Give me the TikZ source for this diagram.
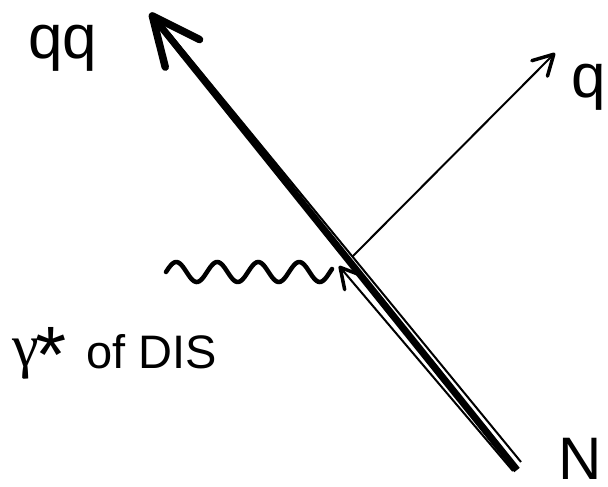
\documentclass[tikz,border=0pt]{standalone}
\usepackage{fontspec}
\setmainfont{Liberation Sans}
\newfontfamily\grk{Liberation Serif}
\usetikzlibrary{arrows.meta}
\tikzset{
  lbl/.style={inner sep=0pt, anchor=base, font=\fontsize{62}{62}\selectfont},
  thickline/.style={line width=7pt, -{Straight Barb[length=48pt,width=44pt,line width=7.5pt,round]}},
  thinline/.style={line width=2pt},
  quark/.style={line width=2pt, -{Straight Barb[length=20pt,width=22pt,line width=3.5pt,round]}},
  photon/.style={line width=4.5pt, line cap=round}
}
\begin{document}
\begin{tikzpicture}[x=1pt,y=-1pt]
\useasboundingbox (0,0) rectangle (608,487);
% coordinates
\coordinate (nb) at (517,470);
\coordinate (tip) at (150,13);
\coordinate (pb) at (521,462);
\coordinate (pt) at (169,33);
\coordinate (ib) at (513,471);
\coordinate (it) at (339,266);
\coordinate (vo) at (352,257);
\coordinate (qt) at (555,53);
\coordinate (g0) at (166,272);
% lines
\draw[thickline] (nb) -- (tip);
\draw[thinline] (pb) -- (pt);
\draw[quark] (ib) -- (it);
\draw[quark] (vo) -- (qt);
\draw[photon] plot[domain=0:166, samples=120, smooth] ({166+\x}, {272-10*sin(\x/41*360)});
% labels
\node[lbl] (qq) at (63,59) {qq};
\node[lbl] (q) at (589,97) {q};
\node[lbl, font=\fontsize{60}{60}\selectfont] (N) at (580,479) {N};
\node[lbl, anchor=base west] (gam) at (12,366) {{\fontsize{60}{60}\grk γ}\kern-3pt{\fontsize{80}{80}\selectfont\raisebox{-16pt}{*}}};
\node[lbl, font=\fontsize{47}{47}\selectfont] (dis) at (152,368) {of DIS};
\end{tikzpicture}
\end{document}
